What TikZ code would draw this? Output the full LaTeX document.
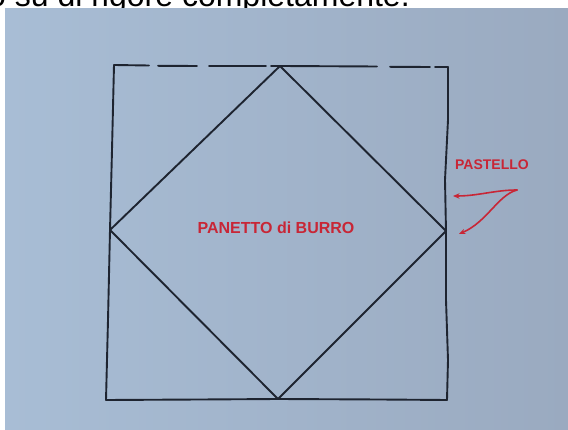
\documentclass[tikz,border=0pt]{standalone}
\usepackage{fontspec}
\setmainfont{Liberation Sans}
\usetikzlibrary{arrows.meta}
\definecolor{paperL}{RGB}{168,189,213}
\definecolor{paperR}{RGB}{154,170,192}
\definecolor{ink}{RGB}{30,36,48}
\definecolor{pen}{RGB}{200,38,54}
\tikzset{
  sketch/.style={draw=ink, line width=1.9pt, line cap=round, line join=round},
  penline/.style={draw=pen, line width=1.6pt, line cap=round,
    -{Stealth[length=6.5pt,width=5.5pt]}},
  hand/.style={text=pen, inner sep=0pt, font=\fontsize{16}{18}\selectfont},
}
\begin{document}
\begin{tikzpicture}[x=1pt,y=-1pt]
\useasboundingbox (0,0) rectangle (568,430);
\fill[white] (0,0) rectangle (568,430);
\begin{scope}
  \clip (0,0) rectangle (568,9);
  \node[anchor=base west, inner sep=0pt, font=\fontsize{32}{38}\selectfont] (head) at (-12,7) {o su di rigore completamente.};
\end{scope}
\shade[left color=paperL, right color=paperR] (5,9) rectangle (568,430);

% square corners and diamond vertices
\coordinate (TL) at (114,65);
\coordinate (TR) at (448,67);
\coordinate (BR) at (447,400);
\coordinate (BL) at (106,400);
\coordinate (DT) at (280,66);
\coordinate (DR) at (446,231);
\coordinate (DB) at (278,399);
\coordinate (DL) at (110,230);

% square (hand drawn, top edge broken)
\draw[sketch] (TL) -- (149,65.5);
\draw[sketch] (158,65.8) -- (197,66);
\draw[sketch] (209,66) -- (266,66);
\draw[sketch] (271,66) -- (DT) -- (377,66.5);
\draw[sketch] (390,66.8) -- (430,67);
\draw[sketch] (435,67) -- (TR);
\draw[sketch] (TR) -- (448,120) -- (445,180) -- (DR) -- (446,300) -- (448,360) -- (BR);
\draw[sketch] (BR) -- (380,399.5) -- (DB) -- (200,399.5) -- (BL);
\draw[sketch] (BL) -- (108,320) -- (DL) -- (112,150) -- (TL);

% diamond
\draw[sketch] (DT) -- (DR) -- (DB) -- (DL) -- cycle;

% labels
\node[hand, font=\fontsize{16}{18}\selectfont\bfseries] (burro) at (276,228) {PANETTO di BURRO};
\node[hand, font=\fontsize{14}{16}\selectfont\bfseries] (pastello) at (492,165) {PASTELLO};

% arrows
\coordinate (AS) at (517,190);
\coordinate (AH1) at (453,196);
\coordinate (AH2) at (459,234);
\draw[penline] (AS) .. controls (495,190) and (478,196) .. (AH1);
\draw[penline] (AS) .. controls (498,195) and (487,222) .. (AH2);
\end{tikzpicture}
\end{document}
